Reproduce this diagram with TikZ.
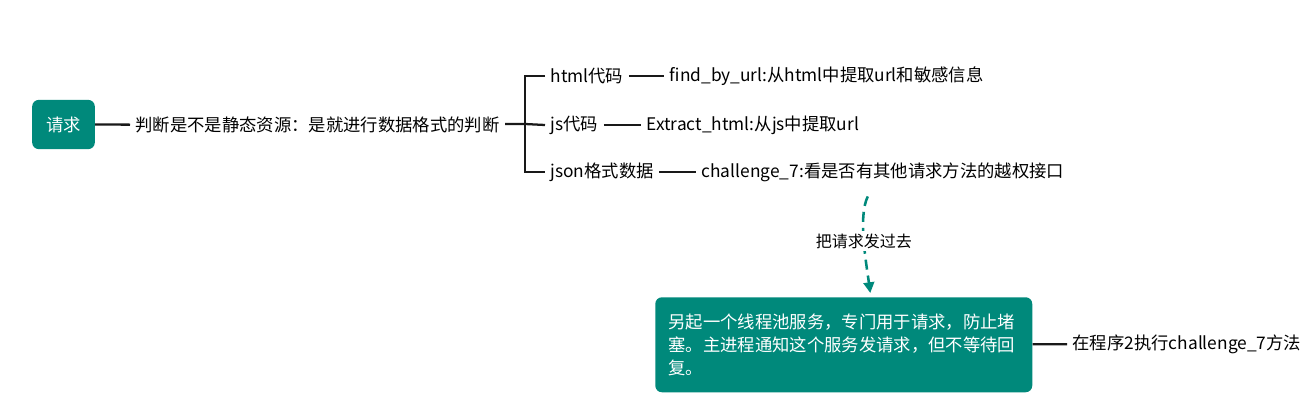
\documentclass[tikz,border=0pt]{standalone}
\usepackage{fontspec}
\setmainfont{Noto Sans CJK SC}
\usetikzlibrary{arrows.meta}
\definecolor{mindteal}{RGB}{0,137,123}
\newcommand{\fs}{\fontsize{13pt}{17pt}\selectfont}
\tikzset{
  topic/.style={fill=mindteal, text=white, rounded corners=5pt, font=\fs},
  leaf/.style={anchor=west, inner xsep=4pt, inner ysep=2pt, font=\fs},
  branch/.style={line width=1.7pt, black!90},
  sendline/.style={mindteal, line width=1.9pt, dash pattern=on 7.5pt off 4.5pt,
    -{Triangle[length=8pt,width=8pt]}},
}
\begin{document}
\begin{tikzpicture}[x=0.75pt, y=-0.75pt]
  \useasboundingbox (0,0) rectangle (1314,407);
  \node[topic, minimum width=47pt, minimum height=37pt] (ask) at (63.5,124.5) {请求};
  \node[leaf] (judge) at (130,125) {判断是不是静态资源：是就进行数据格式的判断};
  \coordinate (fork) at (525,124);
  \node[leaf] (html) at (545,76) {html代码};
  \node[leaf] (js) at (545,125) {js代码};
  \node[leaf] (json) at (545,172) {json格式数据};
  \node[leaf] (find) at (664,76) {find\_by\_url:从html中提取url和敏感信息};
  \node[leaf] (extract) at (641,125) {Extract\_html:从js中提取url};
  \node[leaf] (chal) at (696,172) {challenge\_7:看是否有其他请求方法的越权接口};
  \node[topic, anchor=north west, inner xsep=10pt, text width=262.75pt,
    minimum height=71.25pt, align=left] (pool) at (655,297)
    {另起一个线程池服务，专门用于请求，防止堵\\塞。主进程通知这个服务发请求，但不等待回\\复。};
  \node[leaf] (run) at (1067,344) {在程序2执行challenge\_7方法};
  % connectors
  \draw[branch] (ask) -- (judge);
  \draw[branch] (judge) -- (fork);
  \draw[branch] (html.west) -| (fork) |- (json.west);
  \draw[branch] (fork) -- (js.west);
  \draw[branch] (html) -- (find);
  \draw[branch] (js) -- (extract);
  \draw[branch] (json) -- (chal);
  \draw[branch] (pool) -- (run);
  \draw[sendline] ([shift={(-15,12)}]chal.south) .. controls +(-10,20) and +(-4,-30) ..
    ([shift={(26.5,-4)}]pool.north)
    node[midway, fill=white, text=black, inner sep=2pt, font=\fontsize{12pt}{14pt}\selectfont] {把请求发过去};
\end{tikzpicture}
\end{document}
